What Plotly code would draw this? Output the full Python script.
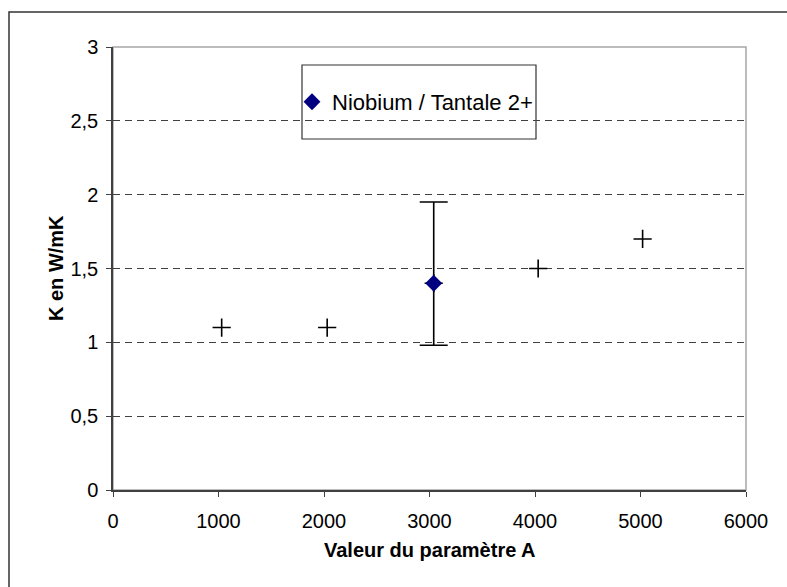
import plotly.graph_objects as go

# Data
param_a = [1030, 2030, 3040, 4030, 5020]
k_values = [1.1, 1.1, 1.4, 1.5, 1.7]

nb_x = [3040]
nb_y = [1.4]
nb_err_plus = [0.55]
nb_err_minus = [0.42]
series_name = "Niobium / Tantale 2+"

x_ticks = [0, 1000, 2000, 3000, 4000, 5000, 6000]
y_ticks = [0, 0.5, 1, 1.5, 2, 2.5, 3]

W, H = 787, 587
L, R, T, B = 113, 41, 47, 97
PW, PH = W - L - R, H - T - B

def px_x(p):
    return (p - L) / PW

def px_y(p):
    return (H - B - p) / PH

FONT = "Liberation Sans, Arial, sans-serif"

fig = go.Figure()

fig.add_trace(go.Scatter(
    x=param_a, y=k_values, mode="markers", showlegend=False,
    marker=dict(symbol="cross-thin", size=13, line=dict(color="black", width=1.6)),
    hoverinfo="x+y",
))
fig.add_trace(go.Scatter(
    x=nb_x, y=nb_y, mode="markers", name=series_name,
    marker=dict(symbol="diamond", size=13, color="#000080"),
    error_y=dict(type="data", array=nb_err_plus, arrayminus=nb_err_minus,
                 color="black", thickness=1.6, width=14, symmetric=False),
))

# Plot-area frame (light grey) and outer chart border
fig.add_shape(type="rect", xref="paper", yref="paper", x0=0, x1=1, y0=0, y1=1,
              line=dict(color="#a6a6a6", width=1.5), layer="below")
fig.add_shape(type="rect", xref="paper", yref="paper",
              x0=px_x(9), x1=px_x(W + 20), y0=px_y(H + 20), y1=px_y(12),
              line=dict(color="#333333", width=1.5), layer="below")
# Legend box
fig.add_shape(type="rect", xref="paper", yref="paper",
              x0=px_x(302), x1=px_x(536), y0=px_y(139), y1=px_y(65),
              line=dict(color="#333333", width=1.2), fillcolor="white", layer="below")

fig.add_annotation(text="<b>K en W/mK</b>", xref="paper", yref="paper",
                   x=px_x(56), y=px_y(268), textangle=-90, showarrow=False,
                   font=dict(family=FONT, size=20, color="black"),
                   xanchor="center", yanchor="middle")
fig.add_annotation(text="<b>Valeur du paramètre A</b>", xref="paper", yref="paper",
                   x=0.5, y=px_y(550), showarrow=False,
                   font=dict(family=FONT, size=20, color="black"),
                   xanchor="center", yanchor="middle")

fig.update_xaxes(range=[0, 6000], tickvals=x_ticks, showgrid=False, zeroline=False,
                 showline=True, linecolor="#404040", linewidth=1.5,
                 ticks="outside", ticklen=5, tickcolor="#404040", tickwidth=1.2,
                 ticklabelstandoff=7,
                 tickfont=dict(family=FONT, size=20, color="black"))
fig.update_yaxes(range=[0, 3], tickvals=y_ticks, showgrid=True, gridcolor="#404040",
                 griddash="7px,5px", gridwidth=1, zeroline=False,
                 showline=True, linecolor="#404040", linewidth=1.5,
                 ticks="outside", ticklen=5, tickcolor="#404040", tickwidth=1.2,
                 ticklabelstandoff=4,
                 tickfont=dict(family=FONT, size=20, color="black"))

fig.update_layout(
    width=W, height=H, margin=dict(l=L, r=R, t=T, b=B, autoexpand=False),
    paper_bgcolor="white", plot_bgcolor="white", separators=", ",
    font=dict(family=FONT, color="black"),
    legend=dict(x=px_x(292), y=px_y(102), xanchor="left", yanchor="middle",
                bgcolor="rgba(0,0,0,0)", borderwidth=0,
                font=dict(family=FONT, size=22, color="black")),
)

fig.write_html("out.html", config={"displayModeBar": False},
               post_script="document.body.style.margin='0';")
